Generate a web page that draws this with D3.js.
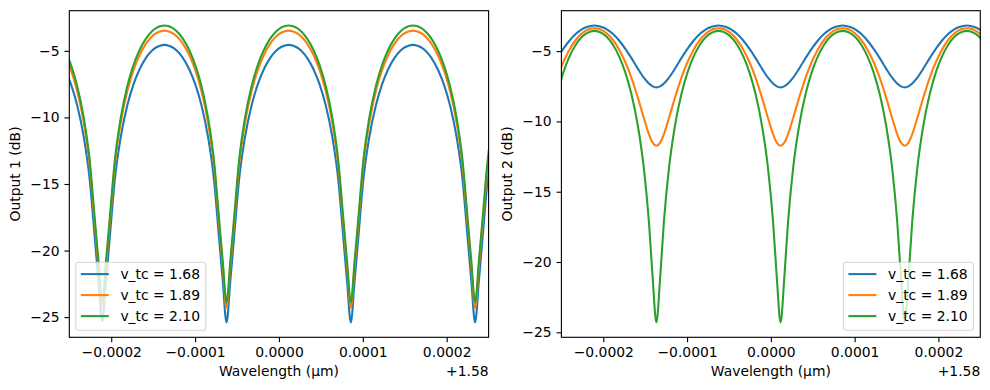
<!DOCTYPE html>
<html><head><meta charset="utf-8">
<script src="https://cdn.jsdelivr.net/npm/d3@7"></script>
<style>
html,body{margin:0;padding:0;background:#fff;}
svg{display:block;font-family:"DejaVu Sans",sans-serif;}
</style></head><body>
<svg id="chart" width="990" height="390"></svg>
<script>
// Wavelength offset from 1.58 µm, in units of 1e-4 µm
const wavelengthOffset = [
-2.548,-2.4775,-2.407,-2.327,-2.257,-2.197,-2.152,-2.107,
-2.062,-2.017,-1.957,-1.887,-1.807,-1.7365,-1.666,-1.586,-1.516,-1.456,-1.411,-1.366,
-1.321,-1.276,-1.216,-1.146,-1.066,-0.9955,-0.925,-0.845,-0.775,-0.715,-0.670,-0.625,
-0.580,-0.535,-0.475,-0.405,-0.325,-0.2545,-0.184,-0.104,-0.034,0.026,0.071,0.116,
0.161,0.206,0.266,0.336,0.416,0.4865,0.557,0.637,0.707,0.767,0.812,0.857,
0.902,0.947,1.007,1.077,1.157,1.2275,1.298,1.378,1.448,1.508,1.553,1.598,
1.643,1.688,1.748,1.818,1.898,1.9685,2.039,2.119,2.189,2.249,2.294,2.339,
2.384,2.429,2.489,2.559];

// Output 1 (dB)
const out1_vtc168 = [
-6.44,-7.56,-9.07,-11.49,-14.65,-18.99,-22.30,-25.30,
-22.30,-18.99,-14.65,-11.49,-9.07,-7.56,-6.44,-5.53,-5.00,-4.71,-4.59,-4.55,
-4.59,-4.71,-5.00,-5.53,-6.44,-7.56,-9.07,-11.49,-14.65,-18.99,-22.30,-25.40,
-22.30,-18.99,-14.65,-11.49,-9.07,-7.56,-6.44,-5.53,-5.00,-4.71,-4.59,-4.55,
-4.59,-4.71,-5.00,-5.53,-6.44,-7.56,-9.07,-11.49,-14.65,-18.99,-22.30,-25.40,
-22.30,-18.99,-14.65,-11.49,-9.07,-7.56,-6.44,-5.53,-5.00,-4.71,-4.59,-4.55,
-4.59,-4.71,-5.00,-5.53,-6.44,-7.56,-9.07,-11.49,-14.65,-18.99,-22.30,-25.40,
-22.30,-18.99,-14.65,-11.49];
const out1_vtc189 = [
-5.37,-6.49,-8.00,-10.42,-13.58,-17.92,-21.20,-24.30,
-21.20,-17.92,-13.58,-10.42,-8.00,-6.49,-5.37,-4.46,-3.93,-3.64,-3.52,-3.48,
-3.52,-3.64,-3.93,-4.46,-5.37,-6.49,-8.00,-10.42,-13.58,-17.92,-21.20,-24.30,
-21.20,-17.92,-13.58,-10.42,-8.00,-6.49,-5.37,-4.46,-3.93,-3.64,-3.52,-3.48,
-3.52,-3.64,-3.93,-4.46,-5.37,-6.49,-8.00,-10.42,-13.58,-17.92,-21.20,-24.30,
-21.20,-17.92,-13.58,-10.42,-8.00,-6.49,-5.37,-4.46,-3.93,-3.64,-3.52,-3.48,
-3.52,-3.64,-3.93,-4.46,-5.37,-6.49,-8.00,-10.42,-13.58,-17.92,-21.20,-24.30,
-21.20,-17.92,-13.58,-10.42];
const out1_vtc210 = [
-4.99,-6.11,-7.62,-10.04,-13.20,-17.54,-20.80,-23.90,
-20.80,-17.54,-13.20,-10.04,-7.62,-6.11,-4.99,-4.08,-3.55,-3.26,-3.14,-3.10,
-3.14,-3.26,-3.55,-4.08,-4.99,-6.11,-7.62,-10.04,-13.20,-17.54,-20.80,-23.90,
-20.80,-17.54,-13.20,-10.04,-7.62,-6.11,-4.99,-4.08,-3.55,-3.26,-3.14,-3.10,
-3.14,-3.26,-3.55,-4.08,-4.99,-6.11,-7.62,-10.04,-13.20,-17.54,-20.80,-23.90,
-20.80,-17.54,-13.20,-10.04,-7.62,-6.11,-4.99,-4.08,-3.55,-3.26,-3.14,-3.10,
-3.14,-3.26,-3.55,-4.08,-4.99,-6.11,-7.62,-10.04,-13.20,-17.54,-20.80,-23.90,
-20.80,-17.54,-13.20,-10.04];

// Output 2 (dB)
const out2_vtc168 = [
-5.48,-4.84,-4.28,-3.77,-3.45,-3.28,-3.21,-3.18,
-3.21,-3.28,-3.45,-3.77,-4.28,-4.84,-5.48,-6.26,-6.89,-7.31,-7.51,-7.58,
-7.51,-7.31,-6.89,-6.26,-5.48,-4.84,-4.28,-3.77,-3.45,-3.28,-3.21,-3.18,
-3.21,-3.28,-3.45,-3.77,-4.28,-4.84,-5.48,-6.26,-6.89,-7.31,-7.51,-7.58,
-7.51,-7.31,-6.89,-6.26,-5.48,-4.84,-4.28,-3.77,-3.45,-3.28,-3.21,-3.18,
-3.21,-3.28,-3.45,-3.77,-4.28,-4.84,-5.48,-6.26,-6.89,-7.31,-7.51,-7.58,
-7.51,-7.31,-6.89,-6.26,-5.48,-4.84,-4.28,-3.77,-3.45,-3.28,-3.21,-3.18,
-3.21,-3.28,-3.45,-3.77];
const out2_vtc189 = [
-6.86,-5.79,-4.93,-4.19,-3.75,-3.51,-3.40,-3.37,
-3.40,-3.51,-3.75,-4.19,-4.93,-5.79,-6.86,-8.34,-9.76,-10.90,-11.51,-11.73,
-11.51,-10.90,-9.76,-8.34,-6.86,-5.79,-4.93,-4.19,-3.75,-3.51,-3.40,-3.37,
-3.40,-3.51,-3.75,-4.19,-4.93,-5.79,-6.86,-8.34,-9.76,-10.90,-11.51,-11.73,
-11.51,-10.90,-9.76,-8.34,-6.86,-5.79,-4.93,-4.19,-3.75,-3.51,-3.40,-3.37,
-3.40,-3.51,-3.75,-4.19,-4.93,-5.79,-6.86,-8.34,-9.76,-10.90,-11.51,-11.73,
-11.51,-10.90,-9.76,-8.34,-6.86,-5.79,-4.93,-4.19,-3.75,-3.51,-3.40,-3.37,
-3.40,-3.51,-3.75,-4.19];
const out2_vtc210 = [
-8.02,-6.53,-5.43,-4.53,-4.00,-3.72,-3.60,-3.56,
-3.60,-3.72,-4.00,-4.53,-5.43,-6.53,-8.02,-10.36,-13.32,-17.09,-21.09,-24.30,
-21.09,-17.09,-13.32,-10.36,-8.02,-6.53,-5.43,-4.53,-4.00,-3.72,-3.60,-3.56,
-3.60,-3.72,-4.00,-4.53,-5.43,-6.53,-8.02,-10.36,-13.32,-17.09,-21.09,-24.30,
-21.09,-17.09,-13.32,-10.36,-8.02,-6.53,-5.43,-4.53,-4.00,-3.72,-3.60,-3.56,
-3.60,-3.72,-4.00,-4.53,-5.43,-6.53,-8.02,-10.36,-13.32,-17.09,-21.09,-24.30,
-21.09,-17.09,-13.32,-10.36,-8.02,-6.53,-5.43,-4.53,-4.00,-3.72,-3.60,-3.56,
-3.60,-3.72,-4.00,-4.53];

const seriesNames = ["v_tc = 1.68", "v_tc = 1.89", "v_tc = 2.10"];
const xLimits = [-2.5, 2.5];
const xTickValues = [-2, -1, 0, 1, 2];
const xTickLabels = ["\u22120.0002", "\u22120.0001", "0.0000", "0.0001", "0.0002"];
const xOffsetLabel = "+1.58";
const yTickValues = [-25, -20, -15, -10, -5];
const yTickLabels = ["\u221225", "\u221220", "\u221215", "\u221210", "\u22125"];
const colors = ["#1f77b4", "#ff7f0e", "#2ca02c"];

const svg = d3.select("#chart");
const FS = 13.9;

function drawPanel(cfg) {
  const {x0, x1, y0, y1, series, ylabel, ylabelX, legendSide, id} = cfg;
  const g = svg.append("g");
  const [mn, mx] = d3.extent(series.flat());
  const pad = (mx - mn) * 0.05;
  const x = d3.scaleLinear().domain(xLimits).range([x0, x1]);
  const y = d3.scaleLinear().domain([mn - pad, mx + pad]).range([y1, y0]);

  g.append("clipPath").attr("id", id).append("rect")
    .attr("x", x0).attr("y", y0).attr("width", x1 - x0).attr("height", y1 - y0);

  const line = d3.line()
    .x((d, i) => x(wavelengthOffset[i]))
    .y(d => y(d))
    .curve(d3.curveMonotoneX);

  series.forEach((s, k) => {
    g.append("path").attr("d", line(s))
      .attr("fill", "none").attr("stroke", colors[k])
      .attr("stroke-width", 2.08).attr("stroke-linejoin", "round")
      .attr("clip-path", `url(#${id})`);
  });

  const xAxis = d3.axisBottom(x).tickValues(xTickValues)
    .tickFormat((d, i) => xTickLabels[i]).tickSize(4.86).tickPadding(4.86).tickSizeOuter(0);
  const yAxis = d3.axisLeft(y).tickValues(yTickValues)
    .tickFormat((d, i) => yTickLabels[i]).tickSize(4.86).tickPadding(4.86).tickSizeOuter(0);

  const gx = g.append("g").attr("transform", `translate(0,${y1})`).call(xAxis);
  const gy = g.append("g").attr("transform", `translate(${x0},0)`).call(yAxis);
  [gx, gy].forEach(a => {
    a.select(".domain").remove();
    a.attr("font-family", "DejaVu Sans, sans-serif").attr("font-size", FS);
    a.selectAll("line").attr("stroke", "#000").attr("stroke-width", 1.11);
    a.selectAll("text").attr("fill", "#000");
  });

  g.append("rect").attr("x", x0).attr("y", y0).attr("width", x1 - x0).attr("height", y1 - y0)
    .attr("fill", "none").attr("stroke", "#000").attr("stroke-width", 1.11);

  g.append("text").attr("x", (x0 + x1) / 2).attr("y", 375.5)
    .attr("text-anchor", "middle").attr("font-size", FS).text("Wavelength (\u00b5m)");
  g.append("text").attr("x", x1).attr("y", 375.5)
    .attr("text-anchor", "end").attr("font-size", FS).text(xOffsetLabel);
  g.append("text").attr("transform", `translate(${ylabelX},${(y0 + y1) / 2}) rotate(-90)`)
    .attr("text-anchor", "middle").attr("font-size", FS).text(ylabel);

  // legend
  const lw = 130, lh = 68;
  const lx = legendSide === "left" ? x0 + 6.5 : x1 - 6.9 - lw;
  const ly = y1 - 7 - lh;
  const lg = g.append("g").attr("transform", `translate(${lx},${ly})`);
  lg.append("rect").attr("width", lw).attr("height", lh).attr("rx", 2.8)
    .attr("fill", "#fff").attr("fill-opacity", 0.8)
    .attr("stroke", "#cccccc").attr("stroke-opacity", 0.8).attr("stroke-width", 1.11);
  seriesNames.forEach((name, k) => {
    const cy = 11.8 + k * 21;
    lg.append("line").attr("x1", 5).attr("x2", 33).attr("y1", cy).attr("y2", cy)
      .attr("stroke", colors[k]).attr("stroke-width", 2.08);
    lg.append("text").attr("x", 44.6).attr("y", cy + 5).attr("font-size", FS).text(name);
  });
}

drawPanel({x0: 69.3, x1: 488.6, y0: 10.7, y1: 337.3,
  series: [out1_vtc168, out1_vtc189, out1_vtc210], ylabel: "Output 1 (dB)", ylabelX: 19.5,
  legendSide: "left", id: "clipL"});
drawPanel({x0: 561.4, x1: 980.3, y0: 10.7, y1: 337.3,
  series: [out2_vtc168, out2_vtc189, out2_vtc210], ylabel: "Output 2 (dB)", ylabelX: 512,
  legendSide: "right", id: "clipR"});
</script>
</body></html>
